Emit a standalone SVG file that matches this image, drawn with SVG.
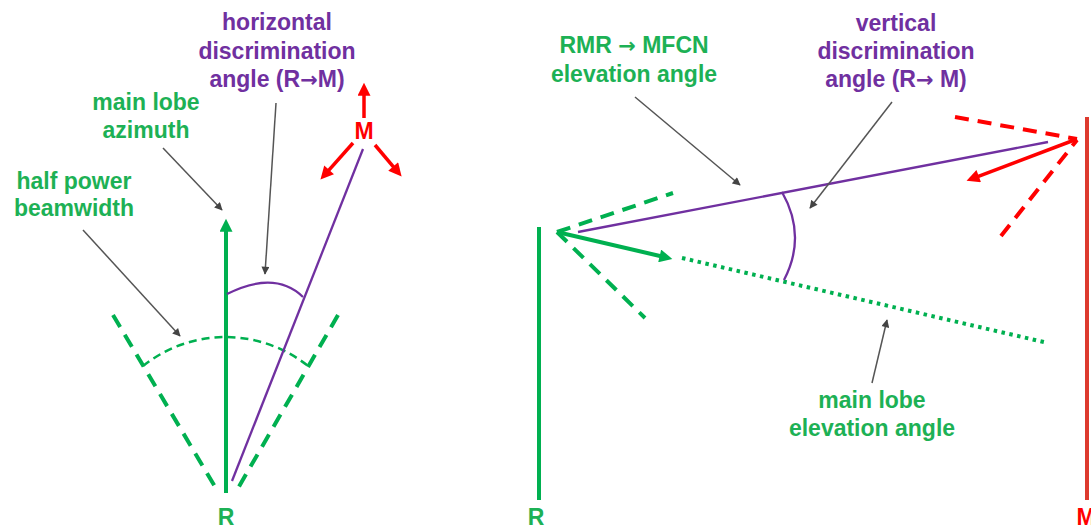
<svg xmlns="http://www.w3.org/2000/svg" width="1091" height="528" viewBox="0 0 1091 528">
<style>
text{font-family:"Liberation Sans",Arial,sans-serif;font-weight:bold;font-size:23px;text-anchor:middle}
.ar{font-family:"DejaVu Sans",sans-serif;font-size:21px}
.tg{fill:#1db155}.tp{fill:#7030a0}.tr{fill:#ff0000}
.g{stroke:#00b050;fill:none}
.p{stroke:#7030a0;fill:none;stroke-width:2.3}
.r{stroke:#ff0000;fill:none}
.ptr{stroke:#555;stroke-width:1.5;fill:none;marker-end:url(#ak)}
.dash{stroke-width:4;stroke-dasharray:14 9}
</style>
<defs>
<marker id="ag" viewBox="0 0 10 10" refX="3.57" refY="5" markerWidth="14" markerHeight="13" markerUnits="userSpaceOnUse" orient="auto"><path d="M0,0 L10,5 L0,10 z" fill="#00b050"/></marker>
<marker id="ar" viewBox="0 0 10 10" refX="3.57" refY="5" markerWidth="14" markerHeight="13" markerUnits="userSpaceOnUse" orient="auto"><path d="M0,0 L10,5 L0,10 z" fill="#ff0000"/></marker>
<marker id="ak" viewBox="0 0 10 10" refX="9" refY="5" markerWidth="9" markerHeight="8" markerUnits="userSpaceOnUse" orient="auto"><path d="M0,0 L10,5 L0,10 z" fill="#444"/></marker>
</defs>
<rect width="1091" height="528" fill="#fff"/>

<!-- LEFT: horizontal view -->
<g id="left-beam">
<line class="g dash" x1="113" y1="315" x2="217" y2="490"/>
<line class="g dash" x1="338" y1="315" x2="237" y2="490"/>
<path class="g" stroke-width="2.5" stroke-dasharray="8 5" d="M143,366 A132,132 0 0 1 308,366"/>
<line class="g" stroke-width="4" x1="226" y1="493" x2="226" y2="227" marker-end="url(#ag)"/>
</g>
<g id="left-R"><text class="tg" x="226" y="525">R</text></g>
<g id="left-M">
<text class="tr" x="364" y="139">M</text>
<line class="r" stroke-width="3.5" x1="364" y1="118" x2="364" y2="91" marker-end="url(#ar)"/>
<line class="r" stroke-width="3.5" x1="353" y1="143" x2="326" y2="173.3" marker-end="url(#ar)"/>
<line class="r" stroke-width="3.5" x1="375" y1="145" x2="396.2" y2="170.1" marker-end="url(#ar)"/>
</g>
<g id="left-path">
<line class="p" x1="232" y1="481" x2="363" y2="149"/>
<path class="p" d="M227,294 Q275,270 303,297"/>
</g>
<g id="label-horizontal">
<text class="tp" x="277" y="30">horizontal</text>
<text class="tp" x="277" y="59">discrimination</text>
<text class="tp" x="277" y="87">angle (R<tspan class="ar">→</tspan>M)</text>
</g>
<g id="label-azimuth">
<text class="tg" x="146" y="110">main lobe</text>
<text class="tg" x="146" y="138">azimuth</text>
</g>
<g id="label-hpbw">
<text class="tg" x="74" y="189">half power</text>
<text class="tg" x="74" y="216">beamwidth</text>
</g>

<!-- RIGHT: vertical view -->
<g id="right-R">
<line class="g" stroke-width="4" x1="539" y1="227" x2="539" y2="500"/>
<text class="tg" x="536" y="525">R</text>
<line class="g dash" x1="557" y1="232" x2="673" y2="193"/>
<line class="g dash" x1="557" y1="232" x2="645" y2="318"/>
<line class="g" stroke-width="4" x1="557" y1="232" x2="664.2" y2="257" marker-end="url(#ag)"/>
<line class="g" stroke-width="4" stroke-dasharray="3.5 4.5" x1="682" y1="258" x2="1048" y2="343"/>
</g>
<g id="right-M">
<line stroke="#dd3a2e" stroke-width="4" x1="1087" y1="117" x2="1087" y2="500"/>
<text class="tr" x="1086" y="525">M</text>
<line class="r dash" x1="955" y1="117" x2="1077" y2="139"/>
<line class="r dash" x1="1001" y1="236" x2="1077" y2="140"/>
<line class="r" stroke-width="3.5" x1="1077" y1="139" x2="974.4" y2="177.8" marker-end="url(#ar)"/>
</g>
<g id="right-path">
<line class="p" x1="578" y1="232" x2="1048" y2="142"/>
<path class="p" d="M782,192 Q807,236 784,280"/>
</g>
<g id="label-elev">
<text class="tg" x="634" y="53">RMR <tspan class="ar">→</tspan> MFCN</text>
<text class="tg" x="634" y="82">elevation angle</text>
</g>
<g id="label-vertical">
<text class="tp" x="896" y="31">vertical</text>
<text class="tp" x="896" y="59">discrimination</text>
<text class="tp" x="896" y="87">angle (R<tspan class="ar">→</tspan> M)</text>
</g>
<g id="label-mainlobe-elev">
<text class="tg" x="872" y="408">main lobe</text>
<text class="tg" x="872" y="436">elevation angle</text>
</g>

<g id="connectors">
<line class="ptr" x1="83" y1="230" x2="180" y2="336"/>
<line class="ptr" x1="163" y1="148" x2="222" y2="210"/>
<line class="ptr" x1="276" y1="103" x2="265" y2="274"/>
<line class="ptr" x1="635" y1="97" x2="740" y2="185"/>
<line class="ptr" x1="892" y1="102" x2="810" y2="208"/>
<line class="ptr" x1="872" y1="383" x2="887" y2="320"/>
</g>
</svg>
